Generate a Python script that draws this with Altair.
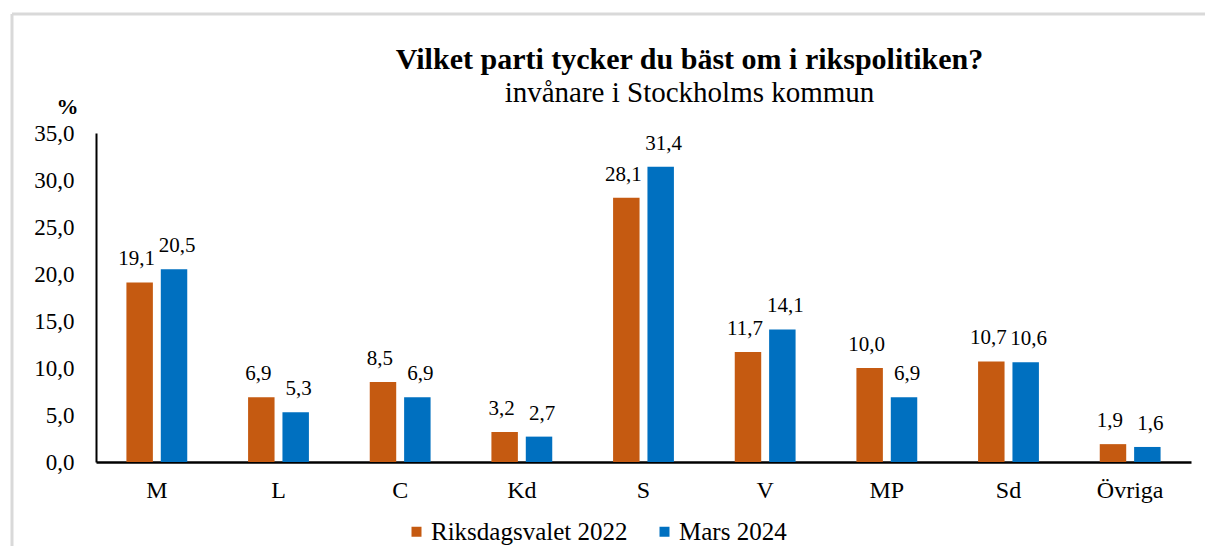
import altair as alt
import pandas as pd

parties = ["M", "L", "C", "Kd", "S", "V", "MP", "Sd", "Övriga"]
series = ["Riksdagsvalet 2022", "Mars 2024"]
val_2022 = [19.1, 6.9, 8.5, 3.2, 28.1, 11.7, 10.0, 10.7, 1.9]
val_2024 = [20.5, 5.3, 6.9, 2.7, 31.4, 14.1, 6.9, 10.6, 1.6]
y_ticks = [0, 5, 10, 15, 20, 25, 30, 35]
colors = ["#C55A11", "#0070C0"]

rows = []
for p, a, b in zip(parties, val_2022, val_2024):
    rows.append({"parti": p, "serie": series[0], "value": a})
    rows.append({"parti": p, "serie": series[1], "value": b})
df = pd.DataFrame(rows)

FONT = "Liberation Serif"

base = alt.Chart(df).transform_calculate(
    label="replace(format(datum.value, '.1f'), '.', ',')"
).encode(
    x=alt.X(
        "parti:N",
        sort=parties,
        scale=alt.Scale(paddingInner=0.5, paddingOuter=0.25),
        axis=alt.Axis(
            title=None,
            labelAngle=0,
            labelFont=FONT,
            labelFontSize=24,
            labelColor="#000000",
            labelPadding=16,
            ticks=False,
            domainColor="#000000",
            domainWidth=2.5,
        ),
    ),
    xOffset=alt.XOffset("serie:N", sort=series, scale=alt.Scale(paddingInner=0.23)),
    y=alt.Y(
        "value:Q",
        scale=alt.Scale(domain=[0, 35]),
        axis=alt.Axis(
            values=y_ticks,
            labelExpr="replace(format(datum.value, '.1f'), '.', ',')",
            labelFont=FONT,
            labelFontSize=23,
            labelColor="#000000",
            labelPadding=22,
            ticks=False,
            grid=False,
            domainColor="#000000",
            domainWidth=2,
            title="%",
            titleAngle=0,
            titleFont=FONT,
            titleFontSize=22,
            titleFontWeight="bold",
            titleColor="#000000",
            titleAlign="center",
            titleBaseline="alphabetic",
            titleX=-29,
            titleY=-20,
        ),
    ),
)

bars = base.mark_bar().encode(
    color=alt.Color(
        "serie:N",
        sort=series,
        scale=alt.Scale(domain=series, range=colors),
        legend=alt.Legend(
            title=None,
            orient="none",
            direction="horizontal",
            legendX=308,
            legendY=386,
            symbolType="square",
            symbolSize=100,
            symbolStrokeWidth=0,
            labelFont=FONT,
            labelFontSize=25,
            labelColor="#000000",
            labelOffset=2,
            labelLimit=0,
            columnPadding=24,
        ),
    )
)

labels_a = base.transform_filter(alt.datum.serie == series[0]).mark_text(
    baseline="alphabetic", dy=-17, dx=-3, font=FONT, fontSize=21, color="#000000"
).encode(text="label:N")
labels_b = base.transform_filter(alt.datum.serie == series[1]).mark_text(
    baseline="alphabetic", dy=-17, dx=3, font=FONT, fontSize=21, color="#000000"
).encode(text="label:N")

frame_df = pd.DataFrame({"k": [0]})
frame_top = alt.Chart(frame_df).mark_rule(color="#d9d9d9", strokeWidth=3).encode(
    x=alt.value(-84), x2=alt.value(1140), y=alt.value(-119)
)
frame_left = alt.Chart(frame_df).mark_rule(color="#d9d9d9", strokeWidth=3).encode(
    x=alt.value(-84), y=alt.value(-119), y2=alt.value(420)
)

chart = alt.layer(frame_top, frame_left, bars, labels_a, labels_b).properties(
    width=1095,
    height=329,
    autosize=alt.AutoSizeParams(type="none"),
    padding={"left": 88, "top": 125, "right": 14, "bottom": 84},
    title=alt.TitleParams(
        text="Vilket parti tycker du bäst om i rikspolitiken?",
        subtitle="invånare i Stockholms kommun",
        font=FONT,
        fontSize=30,
        fontWeight="bold",
        color="#000000",
        subtitleFont=FONT,
        subtitleFontSize=29,
        subtitleFontWeight="normal",
        subtitleColor="#000000",
        subtitlePadding=4,
        anchor="middle",
        dx=46,
        dy=95,
        offset=0,
    ),
).configure_view(stroke=None)

chart.save("out.html", embed_options={"renderer": "svg", "actions": False})
